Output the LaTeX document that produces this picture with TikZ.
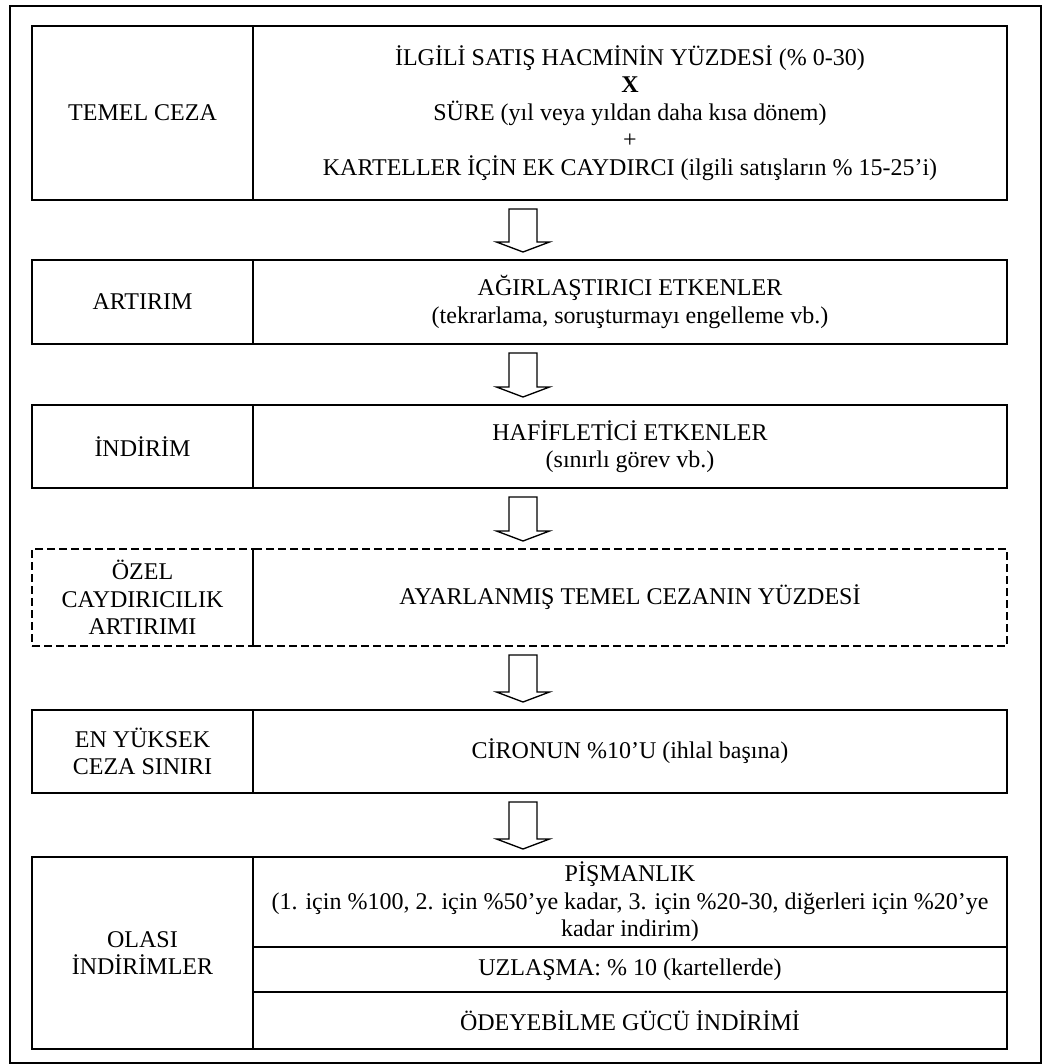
\documentclass[tikz,border=0pt]{standalone}
\usepackage{fontspec}
\setmainfont{Liberation Serif}
\usetikzlibrary{positioning,calc}

\tikzset{
  cell/.style={draw, line width=1.2pt, inner sep=0pt, outer sep=0pt, align=center,
    font=\fontsize{18pt}{20.7pt}\selectfont},
  lcell/.style={cell, minimum width=165.75pt},
  rcell/.style={cell, minimum width=565.5pt},
  dashcell/.style={dash pattern=on 6pt off 3pt},
  hollowarrow/.style={draw, line width=1pt, line join=miter},
}

\begin{document}
\begin{tikzpicture}[x=0.75pt,y=-0.75pt]
\useasboundingbox (0,0) rectangle (1049,1064);
\draw[line width=1pt] (10,6) rectangle (1041,1063);

% temel ceza
\node[lcell, minimum height=130.5pt] (l1) at (142.5,113) {TEMEL CEZA};
\node[rcell, minimum height=130.5pt, right=0pt of l1] (r1) {İLGİLİ SATIŞ HACMİNİN YÜZDESİ (\% 0-30)\\
  \textbf{X}\\
  SÜRE (yıl veya yıldan daha kısa dönem)\\
  +\\
  KARTELLER İÇİN EK CAYDIRCI (ilgili satışların \% 15-25’i)};

% artirim
\node[lcell, minimum height=63pt] (l2) at (142.5,302) {ARTIRIM};
\node[rcell, minimum height=63pt, right=0pt of l2] (r2) {AĞIRLAŞTIRICI ETKENLER\\
  (tekrarlama, soruşturmayı engelleme vb.)};

% indirim
\node[lcell, minimum height=62.25pt] (l3) at (142.5,446.5) {İNDİRİM};
\node[rcell, minimum height=62.25pt, right=0pt of l3] (r3) {HAFİFLETİCİ ETKENLER\\
  (sınırlı görev vb.)};

% ozel caydiricilik
\node[lcell, dashcell, minimum height=72.75pt] (l4) at (142.5,597.5) {ÖZEL\\CAYDIRICILIK\\ARTIRIMI};
\node[rcell, dashcell, minimum height=72.75pt, right=0pt of l4] (r4) {AYARLANMIŞ TEMEL CEZANIN YÜZDESİ};

% ust sinir
\node[lcell, minimum height=62.25pt] (l5) at (142.5,751.5) {EN YÜKSEK\\CEZA SINIRI};
\node[rcell, minimum height=62.25pt, right=0pt of l5] (r5) {CİRONUN \%10’U (ihlal başına)};

% olasi indirimler
\node[lcell, minimum height=144pt] (l6) at (142.5,953) {OLASI\\İNDİRİMLER};
\node[rcell, minimum height=67.5pt, anchor=north west] (r6a) at (l6.north east) {PİŞMANLIK\\
  (1. için \%100, 2. için \%50’ye kadar, 3. için \%20-30, diğerleri için \%20’ye\\
  kadar indirim)};
\node[rcell, minimum height=33.75pt, below=0pt of r6a] (r6b) {UZLAŞMA: \% 10 (kartellerde)};
\node[rcell, minimum height=42.75pt, below=0pt of r6b] (r6c) {ÖDEYEBİLME GÜCÜ İNDİRİMİ};

\coordinate (ax) at (523,0);
\foreach \a/\b in {l1/l2,l2/l3,l3/l4,l4/l5,l5/l6}
  \draw[hollowarrow] let \p1=(\a.south -| ax), \p2=(\b.north -| ax) in
    (\x1-10.5pt,\y1-6.75pt) -- (\x1-10.5pt,\y2+13.5pt) -- (\x1-19.9pt,\y2+13.5pt)
    -- (\x1,\y2+6pt) -- (\x1+19.9pt,\y2+13.5pt) -- (\x1+10.5pt,\y2+13.5pt)
    -- (\x1+10.5pt,\y1-6.75pt) -- cycle;

\end{tikzpicture}
\end{document}
